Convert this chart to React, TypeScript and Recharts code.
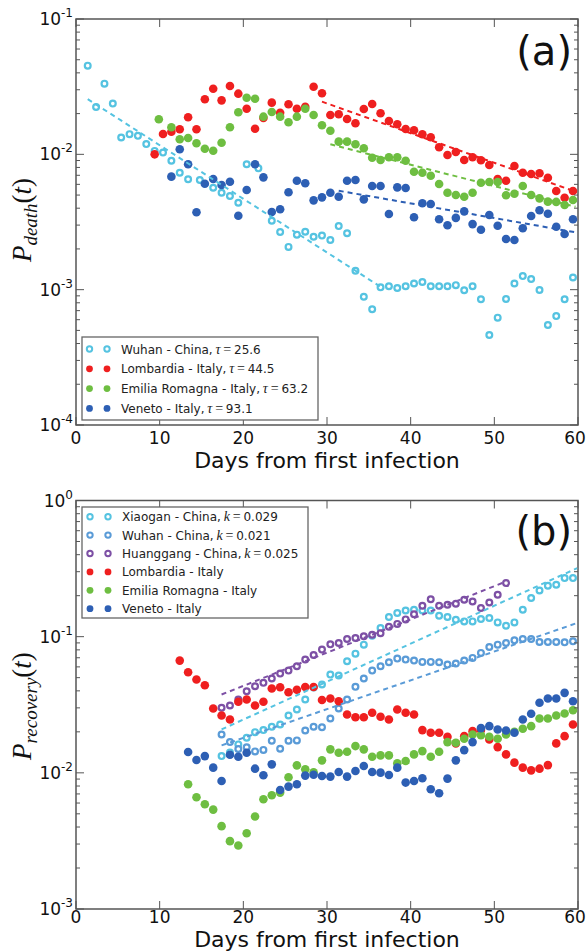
import React from 'react';
import { ScatterChart, Scatter, XAxis, YAxis, ReferenceArea } from 'recharts';

type Pt = [number, number];

// ---------- panel (a): probability of death, [day, value] ----------
const wuhanDeath: Pt[] = [
  [1.4, 0.0452], [2.4, 0.0224], [3.4, 0.0333], [4.4, 0.0237], [5.4, 0.0133], [6.4, 0.0141],
  [7.4, 0.0137], [8.4, 0.0119], [9.4, 0.0106], [10.4, 0.0103], [11.4, 0.00897], [12.4, 0.00731],
  [13.4, 0.00654], [14.8, 0.00646], [16.4, 0.00567], [17.4, 0.0052], [18.4, 0.00492], [19.4, 0.00439],
  [20.4, 0.00844], [21.8, 0.00788], [23.4, 0.00323], [24.4, 0.00267], [25.4, 0.00207], [26.4, 0.00255],
  [27.4, 0.00268], [28.4, 0.00246], [29.4, 0.00251], [30.4, 0.00233], [31.4, 0.00295], [32.4, 0.00261],
  [33.4, 0.00138], [34.4, 0.000887], [35.4, 0.000716], [36.4, 0.00104], [37.4, 0.00106], [38.4, 0.00103],
  [39.4, 0.00106], [40.4, 0.00111], [41.4, 0.00114], [42.4, 0.00106], [43.4, 0.00106], [44.4, 0.00106],
  [45.4, 0.00108], [46.4, 0.000989], [47.4, 0.00106], [48.4, 0.000849], [49.4, 0.000462], [50.4, 0.000621],
  [51.4, 0.000853], [52.4, 0.00111], [53.4, 0.00126], [54.4, 0.0012], [55.4, 0.000994], [56.4, 0.000548],
  [57.4, 0.000638], [58.4, 0.000849], [59.4, 0.00123],
];

const lombardiaDeath: Pt[] = [
  [9.4, 0.01], [10.4, 0.01413], [11.4, 0.01469], [12.4, 0.01531], [13.4, 0.01878], [14.4, 0.01531],
  [15.4, 0.02551], [16.4, 0.03055], [17.4, 0.02506], [18.4, 0.03199], [19.4, 0.02807], [20.4, 0.02173],
  [21.4, 0.01546], [22.4, 0.01855], [23.4, 0.02409], [24.4, 0.02031], [25.4, 0.02344], [26.4, 0.02173],
  [27.4, 0.02249], [28.4, 0.03161], [29.4, 0.02825], [30.4, 0.01954], [31.4, 0.01977], [32.4, 0.01824],
  [33.4, 0.01696], [34.4, 0.02163], [35.4, 0.02355], [36.4, 0.02011], [37.4, 0.01763], [38.4, 0.01667],
  [39.4, 0.01538], [40.4, 0.01506], [41.4, 0.01406], [42.4, 0.01336], [43.4, 0.01127], [44.4, 0.00989],
  [45.4, 0.0104], [46.4, 0.00908], [47.4, 0.00951], [48.4, 0.00904], [49.4, 0.00834], [50.4, 0.00657],
  [51.4, 0.00638], [52.4, 0.0082], [53.4, 0.00731], [54.4, 0.00716], [55.4, 0.00724], [56.4, 0.00672],
  [57.4, 0.00536], [58.4, 0.00478], [59.4, 0.00536],
];

const emiliaDeath: Pt[] = [
  [9.9, 0.01815], [11.4, 0.01584], [12.4, 0.01291], [13.4, 0.0132], [14.4, 0.01207], [15.4, 0.01101],
  [16.4, 0.01064], [17.4, 0.01219], [18.4, 0.01584], [19.4, 0.02045], [20.4, 0.0262], [21.4, 0.02576],
  [22.4, 0.01898], [23.4, 0.02054], [24.4, 0.01898], [25.4, 0.01724], [26.4, 0.01898], [27.4, 0.02173],
  [28.4, 0.01954], [29.4, 0.0164], [30.4, 0.01495], [31.4, 0.01241], [32.4, 0.01241], [33.4, 0.01186],
  [34.4, 0.01109], [35.4, 0.00944], [36.4, 0.00908], [37.4, 0.00951], [38.4, 0.00951], [39.4, 0.00897],
  [40.4, 0.00744], [41.4, 0.00731], [42.4, 0.00695], [43.4, 0.00604], [44.4, 0.0052], [45.4, 0.005],
  [46.4, 0.00486], [47.4, 0.0052], [48.4, 0.00617], [49.4, 0.00625], [50.4, 0.00625], [51.4, 0.00498],
  [52.4, 0.00512], [53.4, 0.00583], [54.4, 0.005], [55.4, 0.00473], [56.4, 0.00447], [57.4, 0.00445],
  [58.4, 0.00422], [59.4, 0.0046],
];

const venetoDeath: Pt[] = [
  [11.4, 0.00684], [12.4, 0.01089], [13.4, 0.00844], [14.4, 0.00373], [15.4, 0.00607], [16.4, 0.00657],
  [17.4, 0.00593], [18.4, 0.00628], [19.4, 0.00352], [20.4, 0.00545], [21.4, 0.00844], [22.4, 0.00676],
  [23.4, 0.00375], [24.4, 0.00393], [25.4, 0.00524], [26.4, 0.00638], [27.4, 0.00611], [28.4, 0.00457],
  [29.4, 0.00481], [30.4, 0.0052], [31.4, 0.00486], [32.4, 0.00638], [33.4, 0.00646], [34.4, 0.00465],
  [35.4, 0.00583], [36.4, 0.00583], [37.4, 0.00362], [38.4, 0.0057], [39.4, 0.00564], [40.4, 0.00343],
  [41.4, 0.00435], [42.4, 0.0043], [43.4, 0.00331], [44.4, 0.00299], [45.4, 0.00339], [46.4, 0.00379],
  [47.4, 0.00305], [48.4, 0.00277], [49.4, 0.00356], [50.4, 0.00297], [51.4, 0.00237], [52.4, 0.00233],
  [53.4, 0.00284], [54.4, 0.0035], [55.4, 0.00386], [56.4, 0.00364], [57.4, 0.00292], [58.4, 0.00258],
  [59.4, 0.00331],
];

// exponential fits (end points of the dashed lines)
const fitWuhanDeath: Pt[] = [[1.4, 0.0256], [36.4, 0.00105]];
const fitLombardiaDeath: Pt[] = [[29.4, 0.0245], [59.7, 0.0053]];
const fitEmiliaDeath: Pt[] = [[30.4, 0.01186], [59.7, 0.0041]];
const fitVenetoDeath: Pt[] = [[31.4, 0.00538], [59.9, 0.00264]];

// ---------- panel (b): probability of recovery ----------
const xiaoganRec: Pt[] = [
  [17.4, 0.01327], [18.4, 0.01413], [19.4, 0.01617], [20.4, 0.01811], [21.4, 0.0199], [22.4, 0.02059],
  [23.4, 0.02181], [24.4, 0.02266], [25.4, 0.02637], [26.4, 0.02919], [27.4, 0.03455], [28.4, 0.0423],
  [29.4, 0.0445], [30.4, 0.05267], [31.4, 0.0518], [32.4, 0.06592], [33.4, 0.07506], [34.4, 0.08738],
  [35.4, 0.1017], [36.4, 0.1158], [37.4, 0.1394], [38.4, 0.1491], [39.4, 0.1558], [40.4, 0.1576],
  [41.4, 0.1558], [42.4, 0.1558], [43.4, 0.1425], [44.4, 0.1394], [45.4, 0.1332], [46.4, 0.1294],
  [47.4, 0.1294], [48.4, 0.1348], [49.4, 0.1371], [50.4, 0.1273], [51.4, 0.1204], [52.4, 0.1273],
  [53.4, 0.1576], [54.4, 0.1921], [55.4, 0.2184], [56.4, 0.2363], [57.4, 0.2404], [58.4, 0.2692],
  [59.4, 0.2692],
];

const wuhanRec: Pt[] = [
  [17.4, 0.01914], [18.4, 0.01681], [19.4, 0.01496], [20.4, 0.01543], [21.4, 0.01437], [22.4, 0.01474],
  [23.4, 0.01721], [24.4, 0.01504], [25.4, 0.01721], [26.4, 0.0173], [27.4, 0.02048], [28.4, 0.02181],
  [29.4, 0.02162], [30.4, 0.02508], [31.4, 0.02969], [32.4, 0.03455], [33.4, 0.04281], [34.4, 0.04923],
  [35.4, 0.05633], [36.4, 0.06058], [37.4, 0.06482], [38.4, 0.06899], [39.4, 0.06785], [40.4, 0.06672],
  [41.4, 0.06527], [42.4, 0.06527], [43.4, 0.06482], [44.4, 0.06235], [45.4, 0.06341], [46.4, 0.06672],
  [47.4, 0.06982], [48.4, 0.07598], [49.4, 0.08405], [50.4, 0.08738], [51.4, 0.08991], [52.4, 0.09395],
  [53.4, 0.0962], [54.4, 0.0962], [55.4, 0.09146], [56.4, 0.09146], [57.4, 0.09146], [58.4, 0.09084],
  [59.4, 0.09239],
];

const huanggangRec: Pt[] = [
  [17.4, 0.03004], [18.4, 0.03123], [19.4, 0.03455], [20.4, 0.03974], [21.4, 0.04324], [22.4, 0.04579],
  [23.4, 0.04923], [24.4, 0.05356], [25.4, 0.05633], [26.4, 0.06058], [27.4, 0.06785], [28.4, 0.07343],
  [29.4, 0.08034], [30.4, 0.08782], [31.4, 0.08991], [32.4, 0.0962], [33.4, 0.09783], [34.4, 0.1005],
  [35.4, 0.1034], [36.4, 0.1061], [37.4, 0.1184], [38.4, 0.1241], [39.4, 0.1339], [40.4, 0.1462],
  [41.4, 0.1687], [42.4, 0.1882], [43.4, 0.1687], [44.4, 0.1716], [45.4, 0.1745], [46.4, 0.1866],
  [47.4, 0.1813], [48.4, 0.1623], [49.4, 0.1783], [50.4, 0.2031], [51.4, 0.2474],
];

const lombardiaRec: Pt[] = [
  [12.4, 0.06672], [13.4, 0.05476], [14.4, 0.04842], [15.4, 0.04396], [16.4, 0.02969], [17.4, 0.02637],
  [18.4, 0.02465], [19.4, 0.03323], [20.4, 0.03455], [21.4, 0.03123], [22.4, 0.03323], [23.4, 0.04159],
  [24.4, 0.04252], [25.4, 0.03906], [26.4, 0.04071], [27.4, 0.04266], [28.4, 0.04266], [29.4, 0.03426],
  [30.4, 0.03514], [31.4, 0.03357], [32.4, 0.02683], [33.4, 0.02563], [34.4, 0.02563], [35.4, 0.02761],
  [36.4, 0.0258], [37.4, 0.02465], [38.4, 0.02919], [39.4, 0.02761], [40.4, 0.02683], [41.4, 0.02059],
  [42.4, 0.0197], [43.4, 0.0197], [44.4, 0.01842], [45.4, 0.01645], [46.4, 0.0186], [47.4, 0.02024],
  [48.4, 0.02059], [49.4, 0.01759], [50.4, 0.01545], [51.4, 0.01366], [52.4, 0.01188], [53.4, 0.01092],
  [54.4, 0.01043], [55.4, 0.01073], [56.4, 0.0114], [57.4, 0.01645], [58.4, 0.0186], [59.4, 0.02266],
];

const emiliaRec: Pt[] = [
  [13.4, 0.00824], [14.4, 0.00662], [15.4, 0.00588], [16.4, 0.00537], [17.4, 0.00406], [18.4, 0.00315],
  [19.4, 0.00293], [20.4, 0.0036], [21.4, 0.00478], [22.4, 0.0064], [23.4, 0.00684], [24.4, 0.00716],
  [25.4, 0.00927], [26.4, 0.01135], [27.4, 0.01061], [28.4, 0.01009], [29.4, 0.01235], [30.4, 0.01487],
  [31.4, 0.01406], [32.4, 0.0143], [33.4, 0.01572], [34.4, 0.01487], [35.4, 0.01314], [36.4, 0.01343],
  [37.4, 0.01343], [38.4, 0.01174], [39.4, 0.0122], [40.4, 0.01366], [41.4, 0.01444], [42.4, 0.01314],
  [43.4, 0.0143], [44.4, 0.01681], [45.4, 0.01664], [46.4, 0.0178], [47.4, 0.01914], [48.4, 0.01891],
  [49.4, 0.01842], [50.4, 0.0178], [51.4, 0.01914], [52.4, 0.02003], [53.4, 0.02108], [54.4, 0.02203],
  [55.4, 0.02508], [56.4, 0.02508], [57.4, 0.02637], [58.4, 0.02728], [59.4, 0.02884],
];

const venetoRec: Pt[] = [
  [13.4, 0.01421], [14.4, 0.01241], [15.4, 0.01327], [16.4, 0.01092], [17.4, 0.00871], [18.4, 0.01359],
  [19.4, 0.01314], [20.4, 0.01406], [21.4, 0.01073], [22.4, 0.00959], [23.4, 0.01154], [24.4, 0.00748],
  [25.4, 0.00792], [26.4, 0.00824], [27.4, 0.00954], [28.4, 0.00967], [29.4, 0.00948], [30.4, 0.00938],
  [31.4, 0.01014], [32.4, 0.00938], [33.4, 0.01031], [34.4, 0.01122], [35.4, 0.01014], [36.4, 0.01003],
  [37.4, 0.00964], [38.4, 0.01092], [39.4, 0.00848], [40.4, 0.00871], [41.4, 0.00912], [42.4, 0.00757],
  [43.4, 0.00708], [44.4, 0.00907], [45.4, 0.01235], [46.4, 0.01469], [47.4, 0.01681], [48.4, 0.02129],
  [49.4, 0.02203], [50.4, 0.02083], [51.4, 0.02048], [52.4, 0.0197], [53.4, 0.02465], [54.4, 0.02714],
  [55.4, 0.03267], [56.4, 0.03514], [57.4, 0.03514], [58.4, 0.03867], [59.4, 0.03357],
];

const fitXiaoganRec: Pt[] = [[17.4, 0.02083], [59.9, 0.3186]];
const fitWuhanRec: Pt[] = [[17.4, 0.0159], [59.9, 0.126]];
const fitHuanggangRec: Pt[] = [[17.4, 0.03759], [51.4, 0.2542]];

// ---------- axes ----------
const X_TICKS = [0, 10, 20, 30, 40, 50, 60];
const DEATH_DECADES = [1e-4, 1e-3, 1e-2, 1e-1];
const RECOVERY_DECADES = [1e-3, 1e-2, 1e-1, 1];
const MINOR_STEPS = [2, 3, 4, 5, 6, 7, 8, 9];

const COL = {
  cyan: '#55c3e1',
  red: '#ef1f1f',
  green: '#6ebe41',
  blue: '#2d5fb4',
  wuhanB: '#5a9bd7',
  purple: '#7d50a5',
  axis: '#555',
};

const W = 586;
const PLOT_L = 76;
const PLOT_R = 578;
const SANS = 'DejaVu Sans';
const MATH = 'Liberation Serif';

const rows = (pts: Pt[]) => pts.map(([x, y]) => ({ x, y }));

const logTicks = (decades: number[]) => {
  const out: number[] = [];
  decades.forEach((d, i) => {
    out.push(d);
    if (i < decades.length - 1) MINOR_STEPS.forEach((m) => out.push(d * m));
  });
  return out;
};

const openDot = (color: string) => (p: any) => (
  <circle cx={p.cx} cy={p.cy} r={2.9} fill="#fff" stroke={color} strokeWidth={2.2} />
);
const fullDot = (color: string) => (p: any) => <circle cx={p.cx} cy={p.cy} r={4.3} fill={color} />;
const noDot = () => <g />;

const fitLine = (pts: Pt[], color: string) => (
  <Scatter
    data={rows(pts)}
    shape={noDot}
    line={{ stroke: color, strokeWidth: 2, strokeDasharray: '5 4', fill: 'none' }}
    isAnimationActive={false}
  />
);

interface PanelProps {
  top: number;
  height: number;
  plotTop: number;
  plotBottom: number;
  labelGap: number;
  decades: number[];
  children: React.ReactNode;
}

function Panel({ top, height, plotTop, plotBottom, labelGap, decades, children }: PanelProps) {
  const yTop = plotTop - top;
  const yBottom = plotBottom - top;
  const ticks = logTicks(decades);
  const isMajor = (v: number) => decades.some((d) => Math.abs(v - d) / d < 1e-6);

  const yTick = (props: any) => {
    const { y, payload } = props;
    const v = payload.value;
    const major = isMajor(v);
    const len = major ? 8 : 4;
    const exp = Math.round(Math.log10(v));
    return (
      <g>
        <line x1={PLOT_L} x2={PLOT_L + len} y1={y} y2={y} stroke={COL.axis} strokeWidth={1} />
        <line x1={PLOT_R} x2={PLOT_R - len} y1={y} y2={y} stroke={COL.axis} strokeWidth={1} />
        {major && (
          <text x={PLOT_L - 3} y={y + 6} textAnchor="end" fontSize={17} fontFamily={SANS} fill="#111">
            10
            <tspan dy={-8} fontSize={12}>{exp === 0 ? '0' : `-${Math.abs(exp)}`}</tspan>
          </text>
        )}
      </g>
    );
  };

  const xTick = (props: any) => {
    const { x, payload } = props;
    // keep the last label inside the page
    const lx = Math.min(x, W - 11);
    return (
      <g>
        <line x1={x} x2={x} y1={yBottom} y2={yBottom - 8} stroke={COL.axis} strokeWidth={1} />
        <line x1={x} x2={x} y1={yTop} y2={yTop + 8} stroke={COL.axis} strokeWidth={1} />
        <text x={lx} y={yBottom + labelGap} textAnchor="middle" fontSize={17} fontFamily={SANS} fill="#111">
          {payload.value}
        </text>
      </g>
    );
  };

  return (
    <div style={{ position: 'absolute', left: 0, top }}>
      <ScatterChart width={W} height={height} margin={{ top: yTop, right: W - PLOT_R, bottom: 0, left: 8 }}>
        <XAxis
          type="number"
          dataKey="x"
          domain={[0, 60]}
          ticks={X_TICKS}
          interval={0}
          tick={xTick}
          tickLine={false}
          axisLine={false}
          height={height - yBottom}
          allowDataOverflow
        />
        <YAxis
          type="number"
          dataKey="y"
          scale="log"
          domain={[decades[0], decades[decades.length - 1]]}
          ticks={ticks}
          interval={0}
          tick={yTick}
          tickLine={false}
          axisLine={false}
          width={PLOT_L - 8}
          allowDataOverflow
        />
        <ReferenceArea
          x1={0}
          x2={60}
          y1={decades[0]}
          y2={decades[decades.length - 1]}
          fill="none"
          stroke={COL.axis}
          strokeWidth={1.5}
        />
        {children}
      </ScatterChart>
    </div>
  );
}

const legendDeath = [
  { name: 'Wuhan - China', tau: '25.6', color: COL.cyan, open: true },
  { name: 'Lombardia - Italy', tau: '44.5', color: COL.red, open: false },
  { name: 'Emilia Romagna - Italy', tau: '63.2', color: COL.green, open: false },
  { name: 'Veneto - Italy', tau: '93.1', color: COL.blue, open: false },
];

const legendRecovery = [
  { name: 'Xiaogan - China', k: '0.029', color: COL.cyan, open: true },
  { name: 'Wuhan - China', k: '0.021', color: COL.wuhanB, open: true },
  { name: 'Huanggang - China', k: '0.025', color: COL.purple, open: true },
  { name: 'Lombardia - Italy', color: COL.red, open: false },
  { name: 'Emilia Romagna - Italy', color: COL.green, open: false },
  { name: 'Veneto - Italy', color: COL.blue, open: false },
];

const LegendMarker = ({ x, y, color, open }: { x: number; y: number; color: string; open: boolean }) =>
  open ? (
    <circle cx={x} cy={y} r={2.7} fill="#fff" stroke={color} strokeWidth={2} />
  ) : (
    <circle cx={x} cy={y} r={3.4} fill={color} />
  );

const YLabel = ({ cy, sub }: { cy: number; sub: string }) => (
  <text transform={`translate(31,${cy}) rotate(-90)`} textAnchor="middle" fontSize={27} fontFamily={MATH} fill="#111">
    <tspan fontStyle="italic">P</tspan>
    <tspan fontStyle="italic" fontSize={19} dy={6}>{sub}</tspan>
    <tspan dy={-6}>(</tspan>
    <tspan fontStyle="italic">t</tspan>
    <tspan>)</tspan>
  </text>
);

function Overlay() {
  return (
    <svg width={W} height={952} style={{ position: 'absolute', left: 0, top: 0, pointerEvents: 'none' }}>
      {/* axis titles */}
      <text x={327} y={468} textAnchor="middle" fontSize={22} fontFamily={SANS} fill="#111">
        Days from first infection
      </text>
      <text x={327} y={947} textAnchor="middle" fontSize={22} fontFamily={SANS} fill="#111">
        Days from first infection
      </text>
      <YLabel cy={220} sub="death" />
      <YLabel cy={706} sub="recovery" />

      {/* panel tags */}
      <text x={572} y={65} textAnchor="end" fontSize={40} fontFamily={SANS} fill="#111">(a)</text>
      <text x={572} y={545} textAnchor="end" fontSize={40} fontFamily={SANS} fill="#111">(b)</text>

      {/* legend (a) */}
      <rect x={82} y={337} width={236} height={83} fill="#fff" stroke="#666" strokeWidth={1.3} />
      {legendDeath.map((it, i) => {
        const y = 349 + i * 19.8;
        return (
          <g key={it.name}>
            <LegendMarker x={89.5} y={y} color={it.color} open={it.open} />
            <LegendMarker x={107} y={y} color={it.color} open={it.open} />
            <text x={121} y={y + 4.5} fontSize={12} fontFamily={SANS} fill="#222">
              {it.name},
              <tspan fontFamily={MATH} fontStyle="italic" fontSize={14}>{'\u2009τ'}</tspan>
              <tspan fontFamily={MATH} fontSize={14}>{'\u2009=\u2009'}</tspan>
              {it.tau}
            </text>
          </g>
        );
      })}

      {/* legend (b) */}
      <rect x={82} y={507} width={226} height={111} fill="#fff" stroke="#666" strokeWidth={1.3} />
      {legendRecovery.map((it, i) => {
        const y = 516.7 + i * 18.4;
        return (
          <g key={it.name}>
            <LegendMarker x={90} y={y} color={it.color} open={it.open} />
            <LegendMarker x={108} y={y} color={it.color} open={it.open} />
            <text x={122} y={y + 4.5} fontSize={12} fontFamily={SANS} fill="#222">
              {it.k ? `${it.name},` : it.name}
              {it.k && (
                <>
                  <tspan fontFamily={MATH} fontStyle="italic" fontSize={14}>{'\u2009k'}</tspan>
                  <tspan fontFamily={MATH} fontSize={14}>{'\u2009=\u2009'}</tspan>
                  {it.k}
                </>
              )}
            </text>
          </g>
        );
      })}
    </svg>
  );
}

export default function App() {
  return (
    <div style={{ position: 'absolute', left: 0, top: 0, width: W, height: 952, background: '#fff', overflow: 'hidden' }}>
      <Panel top={0} height={476} plotTop={19} plotBottom={425} labelGap={19} decades={DEATH_DECADES}>
        <Scatter data={rows(wuhanDeath)} shape={openDot(COL.cyan)} isAnimationActive={false} />
        <Scatter data={rows(lombardiaDeath)} shape={fullDot(COL.red)} isAnimationActive={false} />
        <Scatter data={rows(emiliaDeath)} shape={fullDot(COL.green)} isAnimationActive={false} />
        <Scatter data={rows(venetoDeath)} shape={fullDot(COL.blue)} isAnimationActive={false} />
        {fitLine(fitWuhanDeath, COL.cyan)}
        {fitLine(fitLombardiaDeath, COL.red)}
        {fitLine(fitEmiliaDeath, COL.green)}
        {fitLine(fitVenetoDeath, COL.blue)}
      </Panel>
      <Panel top={476} height={476} plotTop={500.5} plotBottom={909} labelGap={14} decades={RECOVERY_DECADES}>
        <Scatter data={rows(xiaoganRec)} shape={openDot(COL.cyan)} isAnimationActive={false} />
        <Scatter data={rows(wuhanRec)} shape={openDot(COL.wuhanB)} isAnimationActive={false} />
        <Scatter data={rows(huanggangRec)} shape={openDot(COL.purple)} isAnimationActive={false} />
        <Scatter data={rows(lombardiaRec)} shape={fullDot(COL.red)} isAnimationActive={false} />
        <Scatter data={rows(emiliaRec)} shape={fullDot(COL.green)} isAnimationActive={false} />
        <Scatter data={rows(venetoRec)} shape={fullDot(COL.blue)} isAnimationActive={false} />
        {fitLine(fitXiaoganRec, COL.cyan)}
        {fitLine(fitWuhanRec, COL.wuhanB)}
        {fitLine(fitHuanggangRec, COL.purple)}
      </Panel>
      <Overlay />
    </div>
  );
}
